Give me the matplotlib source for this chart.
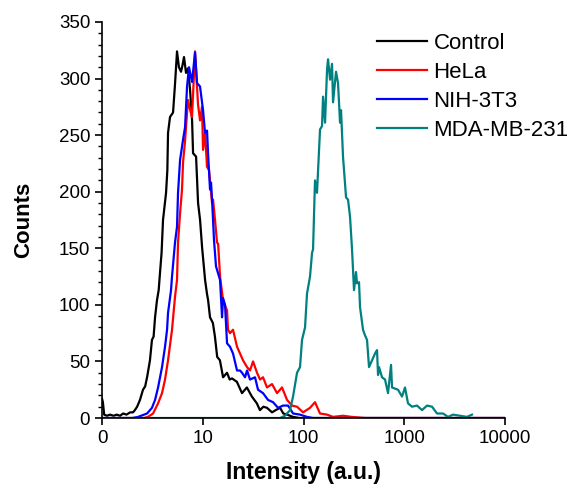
import numpy as np
import matplotlib.pyplot as plt
from matplotlib.ticker import FixedLocator, MultipleLocator

plt.rcParams['font.family'] = ['Liberation Sans', 'DejaVu Sans']

# Histogram traces: intensity (a.u.) and counts
ctrl_x = [1.00, 1.02, 1.05, 1.12, 1.20, 1.30, 1.40, 1.51, 1.62, 1.75, 1.90, 2.03,
          2.12, 2.23, 2.38, 2.55, 2.68, 2.80, 2.99, 3.13, 3.25, 3.36, 3.51, 3.65,
          3.76, 3.90, 4.03, 4.32, 4.45, 4.52, 4.73, 5.07, 5.31, 5.55, 5.80, 6.08,
          6.30, 6.51, 6.82, 7.14, 7.48, 7.83, 8.01, 8.58, 8.98, 9.40, 9.84, 10.54,
          11.0, 11.3, 11.8, 12.6, 13.2, 13.9, 14.8, 15.9, 17.4, 18.5, 19.5, 21.8,
          24.5, 27.4, 30.7, 34.4, 36.9, 40.0, 43.4, 48.7, 53.0, 58.5, 63.0, 68.6,
          78.6, 92.0, 10000]
ctrl_y = [17, 14, 3, 2, 3, 2, 3, 2, 4, 3, 5, 5,
          7, 10, 16, 25, 28, 36, 51, 69, 72, 89, 104, 113,
          128, 146, 175, 199, 219, 252, 266, 270, 296, 324, 310, 306,
          312, 319, 305, 309, 290, 263, 234, 231, 190, 175, 151, 122,
          110, 104, 89, 84, 72, 54, 51, 36, 40, 34, 35, 32,
          22, 27, 19, 13, 7, 10, 9, 5, 7, 9, 4, 3,
          1, 0, 0]

hela_x = [1.0, 2.6, 2.86, 3.21, 3.60, 3.94, 4.22, 4.52, 4.95, 5.30, 5.55, 5.68,
          5.95, 6.22, 6.37, 6.67, 6.98, 7.14, 7.50, 7.82, 8.38, 8.97, 9.39, 9.83,
          10.06, 10.53, 11.02, 11.54, 12.36, 12.64, 13.23, 13.85, 14.2, 14.84, 15.89, 17.41,
          17.81, 18.64, 19.96, 21.88, 23.43, 25.09, 27.50, 29.44, 31.54, 34.55, 37.01, 39.63,
          43.41, 48.68, 54.58, 61.18, 68.60, 76.90, 86.20, 98.9, 116, 130,
          145.8, 171, 196, 247, 300, 408, 10000]
hela_y = [0, 0, 1, 4, 13, 22, 34, 51, 78, 107, 122, 155,
          181, 202, 226, 245, 270, 281, 272, 266, 324, 277, 263, 275,
          237, 252, 222, 219, 190, 193, 175, 155, 154, 125, 104, 95,
          78, 75, 78, 63, 57, 51, 45, 42, 50, 40, 34, 36,
          27, 30, 22, 27, 16, 11, 10, 5, 9, 14,
          4, 3, 1, 2, 1, 0, 0]

nih_x = [1.0, 2.0, 2.28, 2.80, 3.13, 3.36, 3.60, 3.94, 4.22, 4.42, 4.52, 4.84,
         4.95, 5.30, 5.55, 5.68, 5.95, 6.37, 6.67, 6.98, 7.30, 7.82, 8.38, 8.77,
         9.39, 10.06, 10.53, 11.02, 11.28, 11.80, 12.08, 12.36, 12.93, 13.53, 14.84, 15.53,
         15.89, 16.63, 17.41, 18.64, 19.96, 21.88, 23.43, 24.53, 26.27, 27.50, 29.44, 33.01,
         35.35, 39.63, 44.42, 49.81, 55.84, 62.60, 70.19, 78.7, 92.3, 108.3, 124.3, 10000]
nih_y = [0, 0, 1, 4, 9, 16, 27, 45, 63, 78, 93, 113,
         125, 155, 169, 199, 228, 246, 257, 293, 310, 297, 323, 296,
         293, 272, 252, 254, 234, 202, 208, 193, 157, 134, 122, 89,
         106, 100, 66, 63, 57, 42, 42, 40, 36, 42, 34, 36,
         25, 22, 16, 14, 9, 11, 11, 4, 3, 1, 0, 0]

mda_x = [1.0, 58.4, 65.5, 73.5, 78.7, 86.2, 92.3, 96.6, 103.5, 108.3, 116.0, 121.5,
         124.3, 130.0, 136.1, 145.8, 152.6, 156.2, 163.5, 171.2, 175.1, 183.3, 191.9, 196.3,
         210.2, 220.0, 230.4, 235.7, 246.6, 264.2, 276.5, 289.4, 303.0, 310.0, 317.1, 332.0,
         339.6, 355.5, 363.8, 389.5, 407.8, 426.9, 446.9, 478.6, 512.6, 536.5, 549.0, 561.7,
         601.6, 644.2, 690.0, 738.9, 755.9, 809.5, 867.0, 950, 1017, 1089, 1194, 1338,
         1501, 1682, 1886, 2114, 2425, 2718, 3047, 3575, 4196, 4705]
mda_y = [0, 0, 2, 7, 19, 40, 45, 69, 80, 110, 125, 146,
         149, 210, 199, 255, 258, 284, 261, 308, 317, 299, 313, 279,
         306, 296, 261, 272, 231, 195, 193, 178, 149, 131, 113, 129,
         119, 120, 98, 78, 73, 69, 45, 51, 57, 60, 38, 45,
         36, 34, 22, 47, 27, 26, 25, 19, 27, 13, 10, 11,
         7, 11, 10, 4, 4, 1, 3, 2, 1, 3]

x_ticks = [1, 10, 100, 1000, 10000]
x_tick_labels = ['0', '10', '100', '1000', '10000']

fig = plt.figure(figsize=(5.7, 4.88), dpi=100)
ax = fig.add_axes([0.179, 0.1434, 0.707, 0.8116])

ax.plot(ctrl_x, ctrl_y, color='black', lw=1.6, label='Control')
ax.plot(hela_x, hela_y, color='#ff0000', lw=1.6, label='HeLa')
ax.plot(nih_x, nih_y, color='#0000ff', lw=1.6, label='NIH-3T3')
ax.plot(mda_x, mda_y, color='#008080', lw=1.6, label='MDA-MB-231')

ax.set_xscale('log')
ax.set_xlim(1, 10000)
ax.set_ylim(0, 350)
ax.xaxis.set_major_locator(FixedLocator(x_ticks))
ax.xaxis.set_minor_locator(FixedLocator([]))
ax.set_xticklabels(x_tick_labels)
ax.yaxis.set_major_locator(MultipleLocator(50))
ax.yaxis.set_minor_locator(MultipleLocator(10))

for s in ['top', 'right']:
    ax.spines[s].set_visible(False)
for s in ['left', 'bottom']:
    ax.spines[s].set_linewidth(1.2)
ax.tick_params(which='major', direction='out', length=5, width=1.2, labelsize=13.5)
ax.tick_params(which='minor', direction='out', length=3, width=1.0)

ax.set_xlabel('Intensity (a.u.)', fontsize=16.5, fontweight='bold', labelpad=10)
ax.set_ylabel('Counts', fontsize=16, fontweight='bold', labelpad=18)

ax.legend(loc='upper left', bbox_to_anchor=(0.682, 0.972), frameon=False,
          fontsize=16, handlelength=2.25, handletextpad=0.3,
          labelspacing=0.36, borderpad=0, borderaxespad=0)

fig.savefig('out.png', dpi=100)
